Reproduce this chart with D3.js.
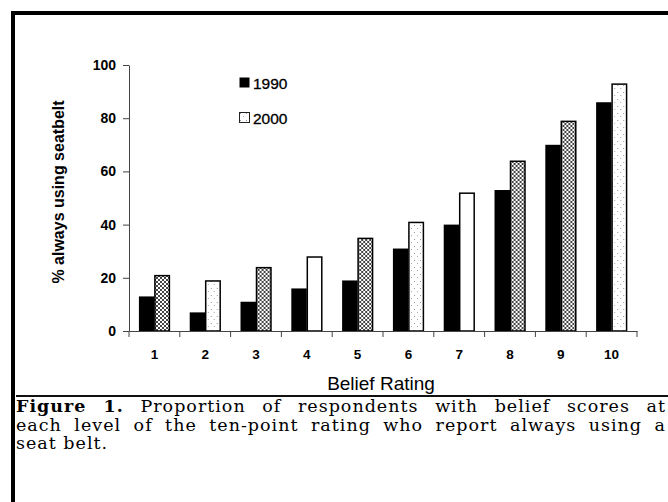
<!DOCTYPE html>
<html>
<head>
<meta charset="utf-8">
<script src="https://cdn.jsdelivr.net/npm/d3@7"></script>
<style>
  html, body { margin: 0; padding: 0; background: #fff; }
  svg { display: block; }
</style>
</head>
<body>
<div id="chart"></div>
<script>
// Belief rating categories and % always using a seat belt
const categories = ['1', '2', '3', '4', '5', '6', '7', '8', '9', '10'];
const series = ['1990', '2000'];
const values1990 = [13, 7, 11, 16, 19, 31, 40, 53, 70, 86];
const values2000 = [21, 19, 24, 28, 35, 41, 52, 64, 79, 93];
const yTicks = [0, 20, 40, 60, 80, 100];
const captionLines = [
  ['Figure 1.', ' Proportion of respondents with belief scores at'],
  ['', 'each level of the ten-point rating who report always using a'],
  ['', 'seat belt.']
];
// scan texture of the 2000 bars (style only)
const fill2000 = ['dense', 'light', 'dense', 'none', 'dense', 'light', 'none', 'dense', 'dense', 'light'];

const width = 668, height = 502;
const margin = { top: 65, left: 129, right: 31, bottom: 171 };

const svg = d3.select('#chart').append('svg')
  .attr('width', width)
  .attr('height', height);

// patterns
const defs = svg.append('defs');
const dense = defs.append('pattern')
  .attr('id', 'dense')
  .attr('width', 4).attr('height', 4)
  .attr('patternUnits', 'userSpaceOnUse');
dense.append('rect').attr('width', 4).attr('height', 4).attr('fill', '#fff');
[[1, 0], [2, 0], [0, 1], [3, 1], [0, 2], [3, 2], [1, 3], [2, 3]].forEach(([px, py]) => {
  dense.append('rect').attr('x', px).attr('y', py)
    .attr('width', 1).attr('height', 1).attr('fill', '#444');
});
const light = defs.append('pattern')
  .attr('id', 'light')
  .attr('width', 6).attr('height', 7)
  .attr('patternUnits', 'userSpaceOnUse');
light.append('rect').attr('width', 6).attr('height', 7).attr('fill', '#fff');
light.append('rect').attr('x', 1).attr('y', 1).attr('width', 1).attr('height', 1).attr('fill', '#999');
light.append('rect').attr('x', 4).attr('y', 4).attr('width', 1).attr('height', 1).attr('fill', '#aaa');

// frame
svg.append('path')
  .attr('d', `M13,${height} L13,13 L${width},13`)
  .attr('fill', 'none')
  .attr('stroke', '#000')
  .attr('stroke-width', 4);

// scales
const x = d3.scaleBand()
  .domain(categories)
  .range([margin.left, width - margin.right])
  .paddingInner(0)
  .paddingOuter(0);

const x1 = d3.scaleBand()
  .domain(series)
  .range([0, x.bandwidth()])
  .paddingInner(0)
  .paddingOuter(0.64);

const y = d3.scaleLinear()
  .domain([0, 100])
  .range([height - margin.bottom, margin.top]);

// bars
const data = categories.map((c, i) => ({
  cat: c, i,
  vals: [
    { key: '1990', value: values1990[i] },
    { key: '2000', value: values2000[i] }
  ]
}));

const groups = svg.append('g').attr('class', 'bars')
  .selectAll('g')
  .data(data)
  .join('g')
    .attr('transform', d => `translate(${x(d.cat)},0)`);

groups.selectAll('rect')
  .data(d => d.vals.map(v => ({ ...v, i: d.i })))
  .join('rect')
    .attr('x', d => x1(d.key) + (d.key === '2000' ? 0.5 : 0))
    .attr('y', d => y(d.value) + (d.key === '2000' ? 0.5 : 0))
    .attr('width', d => x1.bandwidth() - (d.key === '2000' ? 1 : 0))
    .attr('height', d => y(0) - y(d.value) - (d.key === '2000' ? 0.5 : 0))
    .attr('fill', d => {
      if (d.key === '1990') return '#000';
      const f = fill2000[d.i];
      return f === 'none' ? '#fff' : `url(#${f})`;
    })
    .attr('stroke', d => d.key === '2000' ? '#000' : 'none')
    .attr('stroke-width', 1.5);

// y axis
const yAxis = svg.append('g')
  .attr('transform', `translate(${margin.left},0)`)
  .call(d3.axisLeft(y).tickValues(yTicks).tickSize(6).tickPadding(7).tickSizeOuter(0));
yAxis.select('.domain').attr('stroke', '#444');
yAxis.selectAll('.tick line').attr('stroke', '#444');
yAxis.selectAll('text')
  .attr('font-family', 'Liberation Sans, Arial, sans-serif')
  .attr('font-weight', 'bold')
  .attr('font-size', 14)
  .attr('fill', '#000');

// x axis: labels at band centres, ticks at band boundaries
const xAxis = svg.append('g')
  .attr('transform', `translate(0,${y(0)})`)
  .call(d3.axisBottom(x).tickSize(0).tickPadding(18).tickSizeOuter(0));
xAxis.select('.domain').attr('stroke', '#444');
xAxis.selectAll('text')
  .attr('font-family', 'Liberation Sans, Arial, sans-serif')
  .attr('font-weight', 'bold')
  .attr('font-size', 13.5)
  .attr('fill', '#000');

const bounds = categories.map(c => x(c)).concat([x(categories[categories.length - 1]) + x.bandwidth()]);
xAxis.selectAll('.boundary')
  .data(bounds)
  .join('line')
    .attr('class', 'boundary')
    .attr('x1', d => d).attr('x2', d => d)
    .attr('y1', 0).attr('y2', 6)
    .attr('stroke', '#444');

// axis titles
svg.append('text')
  .attr('transform', `translate(64,${(y(0) + y(100)) / 2 - 6}) rotate(-90)`)
  .attr('text-anchor', 'middle')
  .attr('font-family', 'Liberation Sans, Arial, sans-serif')
  .attr('font-weight', 'bold')
  .attr('font-size', 16)
  .text('% always using seatbelt');

svg.append('text')
  .attr('x', (x.range()[0] + x.range()[1]) / 2 - 2)
  .attr('y', 390)
  .attr('text-anchor', 'middle')
  .attr('font-family', 'Liberation Sans, Arial, sans-serif')
  .attr('font-size', 19)
  .text('Belief Rating');

// legend
const legend = svg.append('g').attr('transform', 'translate(239,77)');
const legendItems = legend.selectAll('g')
  .data(series)
  .join('g')
    .attr('transform', (d, i) => `translate(0,${i * 35})`);
legendItems.append('rect')
  .attr('x', 0.5).attr('y', 0.5)
  .attr('width', 10).attr('height', 10)
  .attr('fill', (d, i) => i === 0 ? '#000' : 'url(#light)')
  .attr('stroke', (d, i) => i === 0 ? 'none' : '#222');
legendItems.append('text')
  .attr('x', 14).attr('y', 11.5)
  .attr('font-family', 'Liberation Sans, Arial, sans-serif')
  .attr('font-size', 15.5)
  .attr('stroke', '#000')
  .attr('stroke-width', 0.3)
  .text(d => d);

// caption
svg.append('line')
  .attr('x1', 16).attr('x2', width)
  .attr('y1', 396).attr('y2', 396)
  .attr('stroke', '#111')
  .attr('stroke-width', 2);

const captionWidth = 650;
captionLines.forEach(([bold, rest], i) => {
  const t = svg.append('text')
    .attr('x', 16)
    .attr('y', 412 + i * 18.5)
    .attr('font-family', 'DejaVu Serif, Liberation Serif, serif')
    .attr('font-size', 17.5)
    .attr('letter-spacing', 1)
    .attr('fill', '#000');
  if (bold) t.append('tspan').attr('font-weight', 'bold').text(bold);
  t.append('tspan').text(rest);
  // justify all but the last line
  if (i < captionLines.length - 1) {
    const natural = t.node().getComputedTextLength();
    const gaps = (bold + rest).split(' ').length - 1;
    t.attr('word-spacing', Math.max(0, (captionWidth - natural) / gaps));
  }
});
</script>
</body>
</html>
